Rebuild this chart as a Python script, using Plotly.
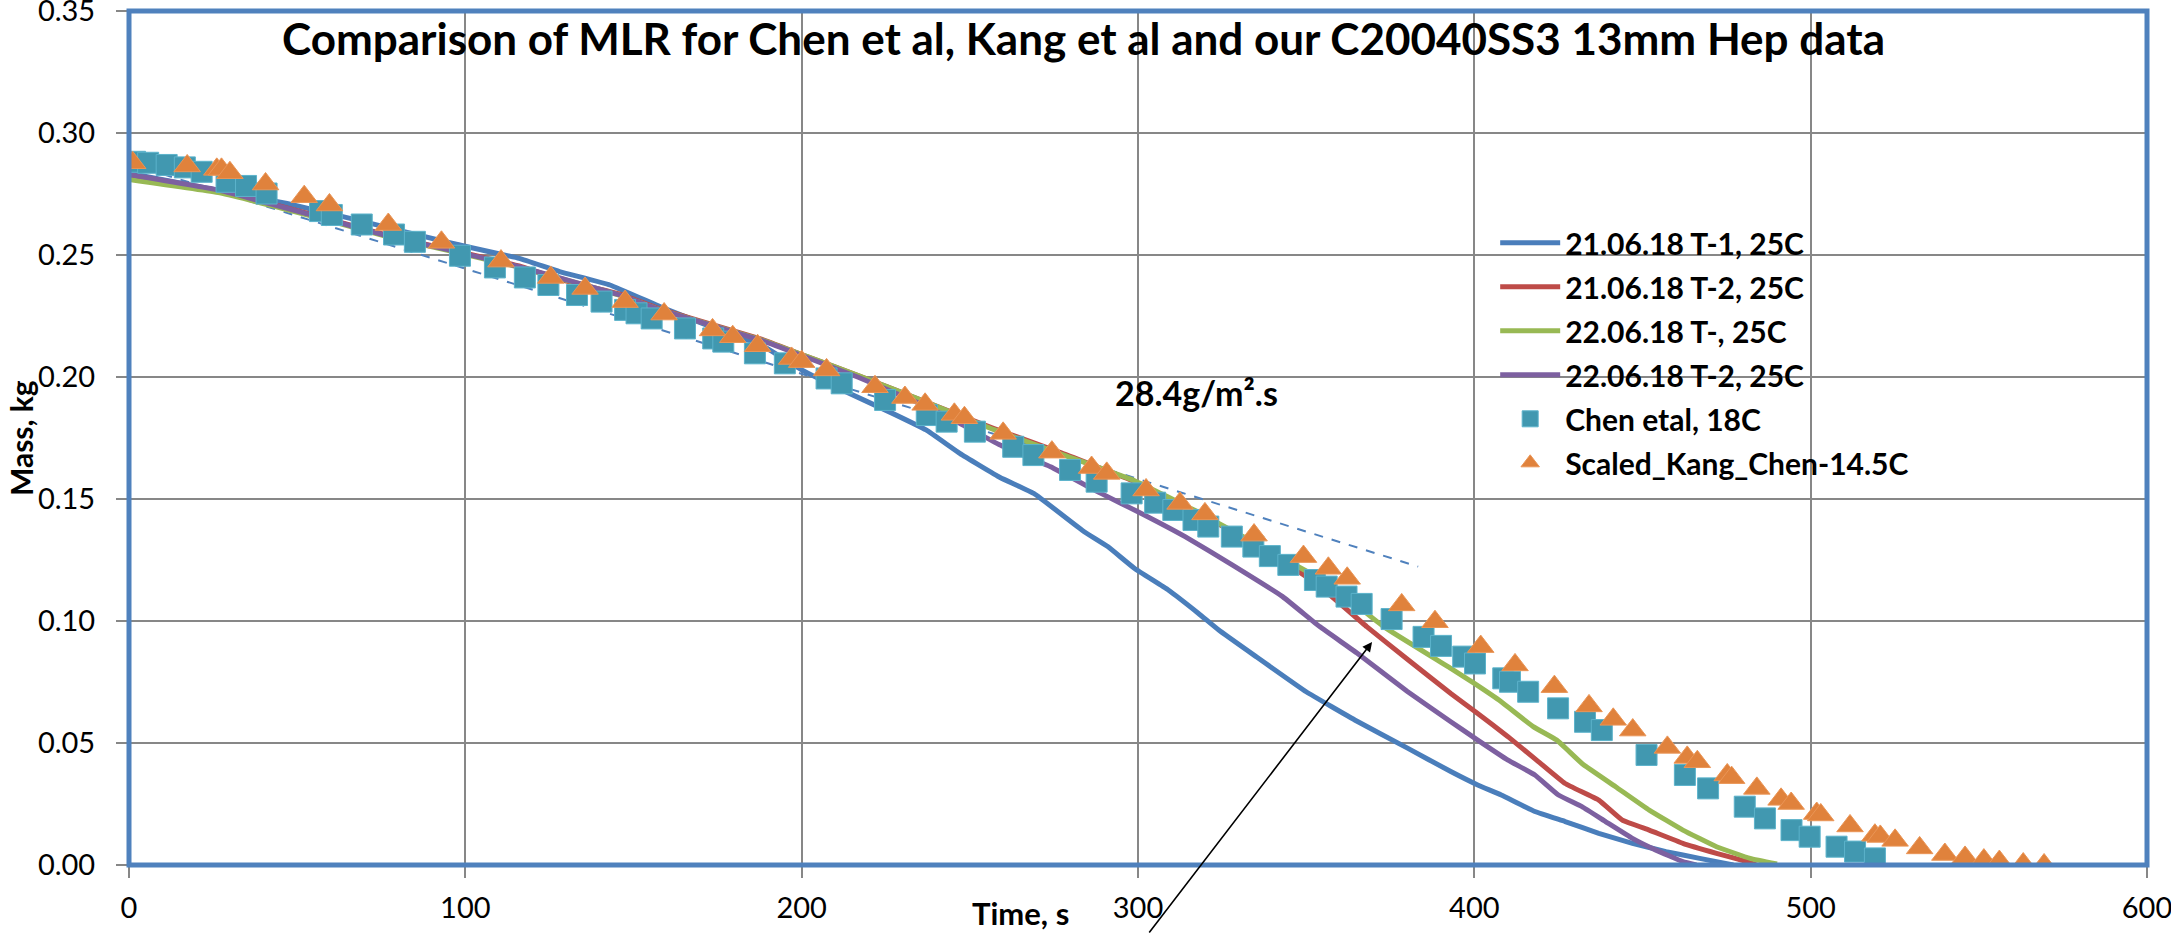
import plotly.graph_objects as go

# ---------------- data ----------------
t1_time = [0, 47, 67, 96, 116, 128, 143, 158, 175, 188, 200, 212, 227, 237, 247, 259, 269, 284, 291, 299,
           309, 318, 324, 335, 350, 365, 380, 393, 401, 408, 418, 427, 437, 447, 457, 467, 477]
t1_mass = [0.2835, 0.2711, 0.2646, 0.2548, 0.2486, 0.2432, 0.2377, 0.2288, 0.2195, 0.2131, 0.2029, 0.1947,
           0.1851, 0.1783, 0.1687, 0.1588, 0.1523, 0.1366, 0.1305, 0.1215, 0.1127, 0.1031, 0.0963, 0.0855,
           0.0710, 0.0590, 0.0480, 0.0383, 0.0328, 0.0287, 0.0219, 0.0178, 0.0130, 0.0089, 0.0055, 0.0027, 0.0]

t2_time = [0, 27, 57, 77, 96, 116, 128, 146, 158, 188, 200, 217, 237, 257, 277, 299, 318, 338, 353, 368,
           380, 393, 401, 410, 418.5, 427, 437, 444, 452, 462, 472, 481, 484]
t2_mass = [0.2822, 0.2762, 0.2656, 0.2580, 0.2520, 0.2455, 0.2400, 0.2340, 0.2278, 0.2155, 0.2092, 0.2005,
           0.1897, 0.1790, 0.1690, 0.1571, 0.1441, 0.1291, 0.1154, 0.0977, 0.0844, 0.0703, 0.0621, 0.0526,
           0.0430, 0.0334, 0.0266, 0.0184, 0.0143, 0.0089, 0.0048, 0.0014, 0.0]

t3_time = [0, 27, 57, 77, 96, 116, 146, 158, 188, 200, 217, 237, 257, 279, 299, 318, 338, 353, 363, 373,
           393, 400, 408, 417.5, 424.5, 432, 442, 452, 462, 472, 482, 490]
t3_mass = [0.2810, 0.2755, 0.2650, 0.2575, 0.2515, 0.2450, 0.2335, 0.2275, 0.2152, 0.2092, 0.2005, 0.1897,
           0.1785, 0.1675, 0.1575, 0.1445, 0.1295, 0.1182, 0.1086, 0.0977, 0.0806, 0.0744, 0.0669, 0.0567,
           0.0512, 0.0416, 0.0321, 0.0225, 0.0143, 0.0075, 0.0027, 0.0004]

t4_time = [0, 27, 57, 77, 96, 116, 146, 158, 188, 200, 217, 237, 247, 259, 274, 289, 301, 314, 328, 343,
           354, 365, 380, 393, 401, 410, 418, 425, 432, 439, 447, 454, 462, 466]
t4_mass = [0.2830, 0.2765, 0.2654, 0.2578, 0.2518, 0.2452, 0.2336, 0.2275, 0.2150, 0.2088, 0.1998, 0.1880,
           0.1810, 0.1721, 0.1632, 0.1523, 0.1441, 0.1346, 0.1230, 0.1100, 0.0977, 0.0870, 0.0712, 0.0587,
           0.0512, 0.0430, 0.0369, 0.0287, 0.0239, 0.0178, 0.0109, 0.0061, 0.0014, 0.0]

chen_time = [1.8, 5.7, 11.2, 16.6, 21.6, 29, 34.8, 40.9, 56.8, 60.3, 69.2, 78.8, 85, 98.4, 108.8, 117.7,
             124.7, 133.2, 140.5, 147.5, 150.9, 155.4, 165.3, 173.7, 176.7, 186.1, 195, 207.4, 211.9, 224.8,
             237.2, 243.1, 251.5, 262.9, 268.9, 279.8, 287.7, 298.1, 305.1, 310.5, 316.5, 320.9, 327.9, 334.3,
             339.2, 344.7, 352.6, 356.1, 362, 366.5, 375.4, 384.9, 390.1, 396.7, 400.2, 408.6, 410.6, 416,
             424.9, 432.9, 437.9, 451.2, 462.6, 469.5, 480.4, 486.4, 494.3, 499.7, 507.7, 513.2, 519.1]
chen_mass = [0.2882, 0.2878, 0.2869, 0.2859, 0.2841, 0.2800, 0.2783, 0.2752, 0.2680, 0.2664, 0.2625, 0.2584,
             0.2554, 0.2497, 0.2449, 0.2408, 0.2377, 0.2336, 0.2309, 0.2275, 0.2261, 0.2240, 0.2199, 0.2158,
             0.2145, 0.2097, 0.2056, 0.1994, 0.1974, 0.1906, 0.1844, 0.1817, 0.1776, 0.1714, 0.1680, 0.1619,
             0.1571, 0.1523, 0.1485, 0.1455, 0.1414, 0.1387, 0.1346, 0.1305, 0.1266, 0.1230, 0.1168, 0.1141,
             0.1100, 0.1070, 0.1008, 0.0935, 0.0898, 0.0854, 0.0826, 0.0765, 0.0751, 0.0710, 0.0642, 0.0587,
             0.0553, 0.0451, 0.0369, 0.0314, 0.0239, 0.0191, 0.0143, 0.0116, 0.0075, 0.0055, 0.0027]

kang_time = [1.1, 17.3, 26.1, 27.5, 30, 40.6, 52.1, 59.6, 77.1, 92.9, 110.6, 125.4, 135.6, 147.5, 159.1,
             173.5, 179.5, 186.9, 197, 200, 207.4, 221.8, 230.7, 236.7, 245.4, 248.4, 259.9, 274.4, 286.2,
             290.7, 302.4, 312.5, 319.9, 334.5, 349.2, 356.6, 362.2, 378.4, 388.3, 401.9, 412.1, 423.8, 434.1,
             441.3, 447.1, 457.4, 463.3, 466.3, 475.2, 476.5, 484, 491.2, 494.2, 501.8, 503, 511.7, 519.1,
             520.7, 525.1, 532.4, 539.9, 545.9, 551.5, 556.1, 563.2, 569.4]
kang_mass = [0.2878, 0.2865, 0.2851, 0.2851, 0.2837, 0.2791, 0.2739, 0.2705, 0.2625, 0.2552, 0.2475, 0.2408,
             0.2363, 0.2309, 0.2258, 0.2193, 0.2165, 0.2128, 0.2076, 0.2063, 0.2029, 0.1960, 0.1916, 0.1888,
             0.1847, 0.1833, 0.1769, 0.1692, 0.1629, 0.1605, 0.1537, 0.1482, 0.1439, 0.1352, 0.1264, 0.1216,
             0.1175, 0.1066, 0.0997, 0.0895, 0.0820, 0.0731, 0.0652, 0.0597, 0.0553, 0.0482, 0.0441, 0.0423,
             0.0369, 0.0358, 0.0314, 0.0269, 0.0252, 0.0211, 0.0205, 0.0160, 0.0122, 0.0117, 0.0101, 0.0070,
             0.0043, 0.0031, 0.0020, 0.0014, 0.0004, 0.0]

tangent_time = [0, 383.3]
tangent_mass = [0.2875, 0.1223]

series_names = ["21.06.18 T-1, 25C", "21.06.18 T-2, 25C", "22.06.18 T-, 25C", "22.06.18 T-2, 25C",
                "Chen etal, 18C", "Scaled_Kang_Chen-14.5C"]
x_ticks = [0, 100, 200, 300, 400, 500, 600]
y_ticks = [0.00, 0.05, 0.10, 0.15, 0.20, 0.25, 0.30, 0.35]

title_text = "Comparison of MLR for Chen et al, Kang et al and our C20040SS3 13mm Hep data"
rate_text = "28.4g/m².s"

# ---------------- figure ----------------
FONT = "Lato, Carlito, Calibri, Liberation Sans, sans-serif"
line_colors = ["#4A7EBB", "#BE4B48", "#98B954", "#7D60A0"]

fig = go.Figure()

fig.add_trace(go.Scatter(x=tangent_time, y=tangent_mass, mode="lines", showlegend=False,
                         line=dict(color="#4F81BD", width=2, dash="dash")))

for tt, mm, name, col in zip([t1_time, t2_time, t3_time, t4_time],
                             [t1_mass, t2_mass, t3_mass, t4_mass],
                             series_names[:4], line_colors):
    fig.add_trace(go.Scatter(x=tt, y=mm, mode="lines", name=name, legendgroup=name,
                             line=dict(color=col, width=5, shape="spline", smoothing=0.3)))

fig.add_trace(go.Scatter(x=chen_time, y=chen_mass, mode="markers", name=series_names[4],
                         legendgroup=series_names[4],
                         marker=dict(symbol="square", size=21, color="#4198B0",
                                     line=dict(color="#5CB3CB", width=1))))
fig.add_trace(go.Scatter(x=kang_time, y=kang_mass, mode="markers", name=series_names[5],
                         legendgroup=series_names[5],
                         marker=dict(symbol="triangle-up", size=23, color="#E0823C",
                                     line=dict(color="#EA9556", width=1))))

grid_col = "#878787"

fig.update_xaxes(range=[0, 600], tickvals=x_ticks, ticktext=[str(v) for v in x_ticks],
                 showgrid=True, gridcolor=grid_col, gridwidth=2,
                 showline=True, linecolor=grid_col, linewidth=2,
                 ticks="outside", ticklen=11, tickcolor=grid_col, tickwidth=2,
                 ticklabeloverflow="allow", ticklabelstandoff=5, automargin=False,
                 tickfont=dict(family=FONT, size=29, color="black"), zeroline=False)
fig.update_yaxes(range=[0, 0.35], tickvals=y_ticks, ticktext=[f"{v:.2f}" for v in y_ticks],
                 showgrid=True, gridcolor=grid_col, gridwidth=2,
                 showline=True, linecolor=grid_col, linewidth=2,
                 ticks="outside", ticklen=11, tickcolor=grid_col, tickwidth=2,
                 ticklabeloverflow="allow", ticklabelstandoff=15, automargin=False,
                 tickfont=dict(family=FONT, size=29, color="black"), zeroline=False)

# plot-area border
fig.add_shape(type="rect", xref="x domain", yref="y domain", x0=0, x1=1, y0=0, y1=1,
              line=dict(color="#4F81BD", width=5), layer="above")

fig.add_annotation(text=f"<b>{title_text}</b>", xref="paper", yref="paper", x=0.473, y=0.968,
                   xanchor="center", yanchor="middle", showarrow=False,
                   font=dict(family=FONT, size=44, color="black"))
fig.add_annotation(text=f"<b>{rate_text}</b>", x=317.5, y=0.1938, xanchor="center", yanchor="middle",
                   showarrow=False, font=dict(family=FONT, size=34, color="black"))
fig.add_annotation(text="<b>Time, s</b>", xref="paper", yref="paper", x=0.442, y=-0.056,
                   xanchor="center", yanchor="middle", showarrow=False,
                   font=dict(family=FONT, size=31, color="black"))
fig.add_annotation(text="<b>Mass, kg</b>", xref="paper", yref="paper", x=-0.0535, y=0.5,
                   xanchor="center", yanchor="middle", showarrow=False, textangle=-90,
                   font=dict(family=FONT, size=30, color="black"))
fig.add_annotation(x=369.6, y=0.0914, ax=303, ay=-0.0283, xref="x", yref="y", axref="x", ayref="y",
                   text="", showarrow=True, arrowhead=2, arrowsize=1.2, arrowwidth=1.6,
                   arrowcolor="black")

fig.update_layout(
    width=2171, height=934,
    margin=dict(l=129, r=24, t=11, b=69),
    paper_bgcolor="white", plot_bgcolor="white",
    showlegend=True,
    legend=dict(x=0.677, y=0.759, xanchor="left", yanchor="top", bgcolor="rgba(0,0,0,0)",
                font=dict(family=FONT, size=30, color="black", weight="bold"), traceorder="grouped",
                tracegroupgap=2, itemwidth=60),
    font=dict(family=FONT, color="black"),
)

fig.write_html("out.html")
